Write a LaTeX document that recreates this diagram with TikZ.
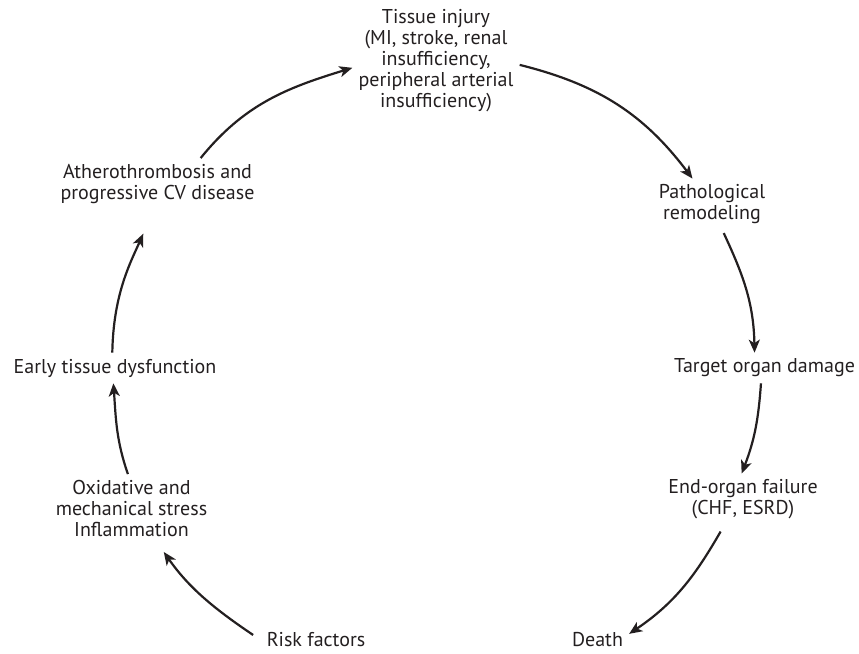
\documentclass[tikz,border=0pt]{standalone}
\usepackage{fontspec}
\setmainfont{PT Sans}
\usepackage{xcolor}
\usetikzlibrary{arrows.meta}
\definecolor{ink}{HTML}{231F20}

\begin{document}
\begin{tikzpicture}[x=1pt, y=1pt,
    stage/.style={align=center, inner sep=6pt, text=ink, font=\fontsize{20}{21}\selectfont},
    flow/.style={draw=ink, line width=2.2pt, -{Stealth[length=13pt,width=11pt,inset=3.5pt]}}]
    \useasboundingbox (0,0) rectangle (859,653);

    % Stages round the cycle
    \node[stage] (injury)  at (436,592.5) {Tissue injury\\(MI, stroke, renal\\insufficiency,\\peripheral arterial\\insufficiency)};
    \node[stage] (remodel) at (712,448.5) {Pathological\\remodeling};
    \node[stage] (damage)  at (764.5,285) {Target organ damage};
    \node[stage] (failure) at (743,153.5) {End-organ failure\\(CHF, ESRD)};
    \node[stage] (death)   at (597.5,13)  {Death};
    \node[stage] (risk)    at (316,13)    {Risk factors};
    \node[stage] (stress)  at (131.5,144.5) {Oxidative and\\mechanical stress\\Inflammation};
    \node[stage] (early)   at (115,285)    {Early tissue dysfunction};
    \node[stage] (athero)  at (157.5,469)  {Atherothrombosis and\\progressive CV disease};

    % Arrows
    \draw[flow] (athero.31) to[out=51, in=197] (injury.185);
    \draw[flow] (injury.-3) to[out=-14, in=127] (remodel.127);
    \draw[flow, shorten <=3pt] (remodel.-68) to[out=-65, in=91] (damage.123);
    \draw[flow] (damage.-103) to[out=-94, in=69] (failure.93);
    \draw[flow, shorten <=7pt] (failure.-126) to[out=-120, in=34] (death.11);
    \draw[flow, shorten <=9pt, shorten >=11pt] (risk.180) to[out=146, in=-55] (stress.-53);
    \draw[flow] (stress.96) to[out=109, in=-86] (early.-96);
    \draw[flow, shorten >=26pt] (early.100) to[out=89, in=-114] (athero.-98);
\end{tikzpicture}
\end{document}
